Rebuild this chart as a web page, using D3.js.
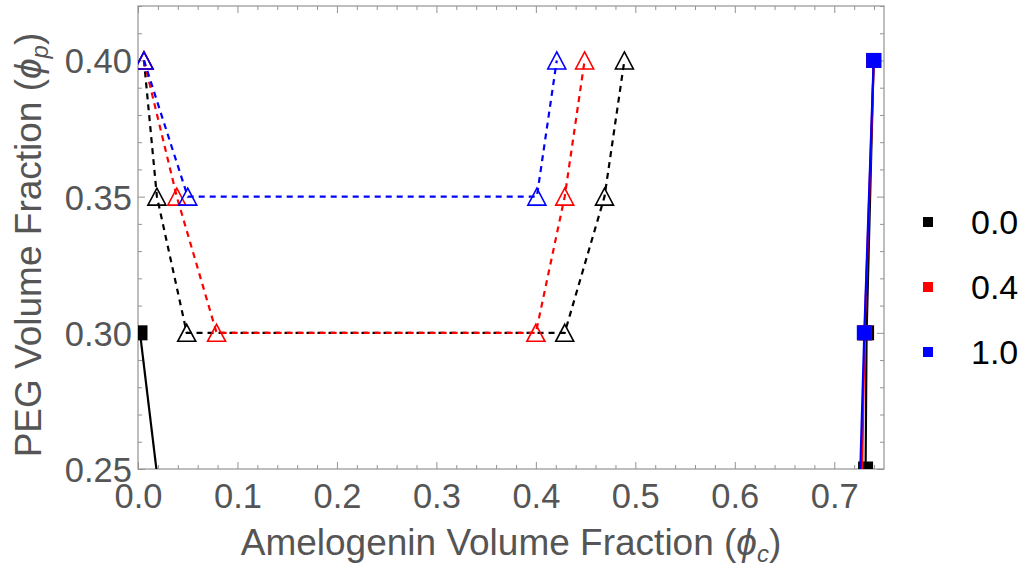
<!DOCTYPE html>
<html>
<head>
<meta charset="utf-8">
<script src="https://cdn.jsdelivr.net/npm/d3@7"></script>
<style>
  html, body { margin: 0; padding: 0; background: #fff; }
  svg { display: block; font-family: "Liberation Sans", Arial, sans-serif; }
</style>
</head>
<body>
<svg id="chart" width="1028" height="569"></svg>
<script>
// ---- Data ----
const seriesLabels = ["0.0", "0.4", "1.0"];
const seriesColors = ["#000000", "#ff0000", "#0000ff"];

// Solid lines with filled squares (binodal branches); points outside the view are clipped
const sqLeft0C  = [0.002, 0.035];
const sqLeft0P  = [0.30, 0.20];
const sqRight0C = [0.7315, 0.7325, 0.7396];
const sqRight0P = [0.25, 0.30, 0.40];
const sqRight4C = [0.7255, 0.7305, 0.7398];
const sqRight4P = [0.20, 0.30, 0.40];
const sqRight10C = [0.7222, 0.7302, 0.7396];
const sqRight10P = [0.20, 0.30, 0.40];

// Dashed lines with open triangles
const tri0C  = [0.006, 0.019, 0.049, 0.429, 0.469, 0.489];
const tri0P  = [0.40, 0.35, 0.30, 0.30, 0.35, 0.40];
const tri4C  = [0.006, 0.039, 0.079, 0.400, 0.429, 0.449];
const tri4P  = [0.40, 0.35, 0.30, 0.30, 0.35, 0.40];
const tri10C = [0.006, 0.050, 0.401, 0.421];
const tri10P = [0.40, 0.35, 0.35, 0.40];

const xTickValues = [0.0, 0.1, 0.2, 0.3, 0.4, 0.5, 0.6, 0.7];
const xTickLabels = ["0.0", "0.1", "0.2", "0.3", "0.4", "0.5", "0.6", "0.7"];
const yTickValues = [0.25, 0.30, 0.35, 0.40];
const yTickLabels = ["0.25", "0.30", "0.35", "0.40"];

// ---- Build series ----
const zip = (xs, ys) => xs.map((x, i) => [x, ys[i]]);
const squareSeries = [
  [zip(sqLeft0C, sqLeft0P), zip(sqRight0C, sqRight0P)],
  [zip(sqRight4C, sqRight4P)],
  [zip(sqRight10C, sqRight10P)]
];
const triSeries = [zip(tri0C, tri0P), zip(tri4C, tri4P), zip(tri10C, tri10P)];

// ---- Layout ----
const L = 138, R = 884, T = 6, B = 469;
const x = d3.scaleLinear().domain([0, 0.75]).range([L, R]);
const y = d3.scaleLinear().domain([0.25, 0.42]).range([B, T]);

const svg = d3.select("#chart");
const frameColor = "#939393";
const labelColor = "#555555";
const tickFont = 34.5, titleFont = 37, subFont = 24;

svg.append("defs").append("clipPath").attr("id", "plotclip")
  .append("rect").attr("x", L).attr("y", T).attr("width", R - L).attr("height", B - T);

// ---- Axes (frame with inward ticks on all sides) ----
const xMinor = d3.range(0, 0.7501, 0.02).map(v => +v.toFixed(3));
const yMinor = d3.range(0.25, 0.4201, 0.01).map(v => +v.toFixed(3));
const isMajorX = v => Math.abs(v * 10 - Math.round(v * 10)) < 1e-6;
const isMajorY = v => Math.abs(v * 20 - Math.round(v * 20)) < 1e-6;

function styleAxis(g) {
  g.select(".domain").remove();
  g.selectAll(".tick line").attr("stroke", frameColor).attr("stroke-width", 1);
}

// bottom
const gB = svg.append("g").attr("transform", `translate(0,${B})`)
  .call(d3.axisTop(x).tickValues(xMinor).tickFormat("").tickSize(0));
gB.selectAll(".tick line").attr("y2", d => isMajorX(d) ? -7 : -4);
styleAxis(gB);
// top
const gT = svg.append("g").attr("transform", `translate(0,${T})`)
  .call(d3.axisBottom(x).tickValues(xMinor).tickFormat("").tickSize(0));
gT.selectAll(".tick line").attr("y2", d => isMajorX(d) ? 7 : 4);
styleAxis(gT);
// left
const gL = svg.append("g").attr("transform", `translate(${L},0)`)
  .call(d3.axisRight(y).tickValues(yMinor).tickFormat("").tickSize(0));
gL.selectAll(".tick line").attr("x2", d => isMajorY(d) ? 7 : 4);
styleAxis(gL);
// right
const gR = svg.append("g").attr("transform", `translate(${R},0)`)
  .call(d3.axisLeft(y).tickValues(yMinor).tickFormat("").tickSize(0));
gR.selectAll(".tick line").attr("x2", d => isMajorY(d) ? -7 : -4);
styleAxis(gR);

// tick labels
const gxl = svg.append("g").attr("transform", `translate(0,${B})`)
  .call(d3.axisBottom(x).tickValues(xTickValues).tickFormat((d, i) => xTickLabels[i]).tickSize(0).tickPadding(0));
gxl.select(".domain").remove();
gxl.selectAll("text").attr("fill", labelColor).attr("font-size", tickFont)
  .attr("font-family", "Liberation Sans, Arial, sans-serif")
  .attr("dy", null).attr("y", 39);

const gyl = svg.append("g").attr("transform", `translate(${L},0)`)
  .call(d3.axisLeft(y).tickValues(yTickValues).tickFormat((d, i) => yTickLabels[i]).tickSize(0).tickPadding(0));
gyl.select(".domain").remove();
gyl.selectAll("text").attr("fill", labelColor).attr("font-size", tickFont)
  .attr("font-family", "Liberation Sans, Arial, sans-serif")
  .attr("x", -6).attr("dy", "0.36em");

// frame
svg.append("rect").attr("x", L).attr("y", T).attr("width", R - L).attr("height", B - T)
  .attr("fill", "none").attr("stroke", frameColor).attr("stroke-width", 1.2);

// ---- Axis titles ----
const xt = svg.append("text").attr("x", (L + R) / 2).attr("y", 555)
  .attr("text-anchor", "middle").attr("font-size", titleFont).attr("fill", labelColor);
xt.append("tspan").text("Amelogenin Volume Fraction (");
xt.append("tspan").attr("font-style", "italic").text("ϕ");
xt.append("tspan").attr("font-style", "italic").attr("font-size", subFont).attr("dy", 7).text("c");
xt.append("tspan").attr("dy", -7).text(")");

const yt = svg.append("text").attr("transform", `translate(41,245) rotate(-90)`)
  .attr("text-anchor", "middle").attr("font-size", titleFont).attr("fill", labelColor);
yt.append("tspan").text("PEG Volume Fraction (");
yt.append("tspan").attr("font-style", "italic").text("ϕ");
yt.append("tspan").attr("font-style", "italic").attr("font-size", subFont).attr("dy", 7).text("p");
yt.append("tspan").attr("dy", -7).text(")");

// ---- Data marks ----
const plot = svg.append("g").attr("clip-path", "url(#plotclip)");
const line = d3.line().x(d => x(d[0])).y(d => y(d[1]));
const triPath = "M0,-8.5L9,8.5L-9,8.5Z";
const sq = 15;

seriesColors.forEach((col, si) => {
  const g = plot.append("g");
  // solid binodal branches
  squareSeries[si].forEach(branch => {
    g.append("path").attr("d", line(branch)).attr("fill", "none")
      .attr("stroke", col).attr("stroke-width", 2.2);
  });
  // dashed tie branch
  g.append("path").attr("d", line(triSeries[si])).attr("fill", "none")
    .attr("stroke", col).attr("stroke-width", 2.2).attr("stroke-dasharray", "6,5");
  // squares
  squareSeries[si].forEach(branch => {
    g.selectAll(null).data(branch).enter().append("rect")
      .attr("x", d => x(d[0]) - sq / 2).attr("y", d => y(d[1]) - sq / 2)
      .attr("width", sq).attr("height", sq).attr("fill", col);
  });
  // triangles
  g.selectAll(null).data(triSeries[si]).enter().append("path")
    .attr("d", triPath)
    .attr("transform", d => `translate(${x(d[0])},${y(d[1])})`)
    .attr("fill", "none").attr("stroke", col).attr("stroke-width", 1.6);
});

// ---- Legend ----
const legY = d3.scalePoint().domain(seriesLabels).range([222, 352]);
const leg = svg.append("g");
seriesLabels.forEach((lab, i) => {
  leg.append("rect").attr("x", 928 - 5).attr("y", legY(lab) - 5)
    .attr("width", 10).attr("height", 10).attr("fill", seriesColors[i]);
  leg.append("text").attr("x", 971).attr("y", legY(lab)).attr("dy", "0.36em")
    .attr("font-size", 34).attr("fill", "#000").text(lab);
});
</script>
</body>
</html>
